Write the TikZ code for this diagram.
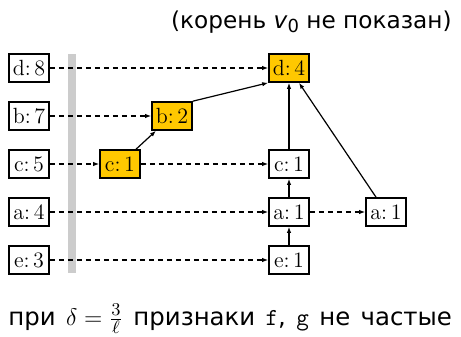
\documentclass[tikz,border=0pt]{standalone}
\usepackage{fontspec}
\newfontfamily\rusans{DejaVu Sans}
\usetikzlibrary{arrows.meta}
\definecolor{hotyellow}{RGB}{255,200,0}

\begin{document}
\begin{tikzpicture}[x=0.5pt, y=-0.5pt,
    box/.style={draw, line width=0.8pt, fill=white, minimum width=20pt,
    minimum height=14pt, inner sep=1pt, font=\fontsize{11}{13}\selectfont},
    hot/.style={box, fill=hotyellow},
    link/.style={-{Latex[length=3pt, width=2.2pt]}, line width=0.6pt},
    chain/.style={link, dash pattern=on 2.5pt off 2pt},
    caption/.style={inner sep=0, font=\rusans\fontsize{11.6}{14}\selectfont}]

    \useasboundingbox (0,0) rectangle (461,337);

    % Separator
    \fill[black!20] (68,54) rectangle (76,273);

    % Header table
    \node[box] (d8) at (29,68) {d:\,8};
    \node[box] (b7) at (29,116) {b:\,7};
    \node[box] (c5) at (29,164) {c:\,5};
    \node[box] (a4) at (29,212) {a:\,4};
    \node[box] (e3) at (29,260) {e:\,3};

    % Tree
    \node[hot] (d4) at (289,68) {d:\,4};
    \node[hot] (b2) at (172,116) {b:\,2};
    \node[hot] (c1) at (120,164) {c:\,1};
    \node[box] (c1r) at (289,164) {c:\,1};
    \node[box] (a1) at (289,212) {a:\,1};
    \node[box] (a1r) at (386,212) {a:\,1};
    \node[box] (e1) at (289,260) {e:\,1};

    % Node links
    \draw[chain] (d8) -- (d4);
    \draw[chain] (b7) -- (b2);
    \draw[chain] (c5) -- (c1);
    \draw[chain] (c1) -- (c1r);
    \draw[chain] (a4) -- (a1);
    \draw[chain] (a1) -- (a1r);
    \draw[chain] (e3) -- (e1);

    % Parents
    \draw[link] (c1) -- (b2);
    \draw[link] (b2.north east) -- (d4.south west);
    \draw[link] (c1r) -- (d4);
    \draw[link] (a1) -- (c1r);
    \draw[link] (e1) -- (a1);
    \draw[link] (a1r) -- (d4);

    % Captions
    \node[caption, anchor=base east] (top) at (452,28)
    {(корень \textit{v}\raisebox{-0.35ex}{\small 0} не показан)};
    \node[caption, anchor=base west, font=\rusans\fontsize{12.2}{14}\selectfont]
    (bottom) at (8,325)
    {\spaceskip=5.2pt при $\delta=\frac{3}{\ell}$ признаки \texttt{f}, \texttt{g} не частые};

\end{tikzpicture}
\end{document}
